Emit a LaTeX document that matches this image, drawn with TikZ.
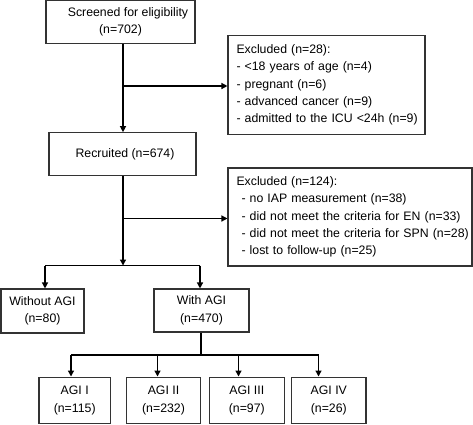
\documentclass[tikz,border=0pt]{standalone}
\usepackage{fontspec}
\setmainfont{Liberation Sans}
\usetikzlibrary{arrows.meta}
\begin{document}
\begin{tikzpicture}[x=1pt,y=-1pt,
  box/.style={draw=black!80, line width=1.1pt, inner sep=0pt, align=center,
    font=\fontsize{12.3}{17.6}\selectfont},
  exbox/.style={draw=black!80, line width=1.1pt, inner ysep=0pt, inner xsep=8.5pt, align=left,
    font=\fontsize{12.3}{17.2}\selectfont},
  conn/.style={line width=1.3pt, black},
  arr/.style={conn, -{Triangle[length=6pt,width=6pt]}}]
\useasboundingbox (0,0) rectangle (473,424);
% boxes
\node[box, minimum width=149pt, minimum height=42.5pt] (scr) at (120.5,21.8)
  {\hspace*{15pt}Screened for eligibility\\(n=702)};
\node[exbox, minimum width=197pt, minimum height=99pt, text width=180pt] (exc1) at (326.5,85)
  {\mbox{Excluded (n=28):}\\\mbox{- <18 years of age (n=4)}\\\mbox{- pregnant (n=6)}\\\mbox{- advanced cancer (n=9)}\\\mbox{- admitted to the ICU <24h (n=9)}};
\node[box, minimum width=147pt, minimum height=43pt] (rec) at (122.5,154.2)
  {\hspace*{5pt}Recruited (n=674)};
\node[exbox, minimum width=244pt, minimum height=98pt, text width=227pt] (exc2) at (350,217)
  {\mbox{Excluded (n=124):}\\\mbox{\hspace*{5pt}- no IAP measurement (n=38)}\\\mbox{\hspace*{5pt}- did not meet the criteria for EN (n=33)}\\\mbox{\hspace*{5pt}- did not meet the criteria for SPN (n=28)}\\\mbox{\hspace*{5pt}- lost to follow-up (n=25)}};
\node[box, minimum width=83pt, minimum height=44pt] (wo) at (42.5,311)
  {Without AGI\\(n=80)};
\node[box, minimum width=95pt, minimum height=43pt] (wi) at (201.5,310.5)
  {With AGI\\(n=470)};
\node[box, minimum width=71.5pt, minimum height=46.5pt] (a1) at (74.7,400.3)
  {AGI I\\(n=115)};
\node[box, minimum width=74pt, minimum height=46.5pt] (a2) at (163.5,400.3)
  {AGI II\\(n=232)};
\node[box, minimum width=75pt, minimum height=46.5pt] (a3) at (246.8,400.3)
  {AGI III\\(n=97)};
\node[box, minimum width=74.3pt, minimum height=46.5pt] (a4) at (328.8,400.3)
  {AGI IV\\(n=26)};
% junction coordinates
\coordinate (j1) at (123,86);
\coordinate (j2) at (123,218.5);
\coordinate (sp) at (123,265.5);
\coordinate (sl) at (45,265.5);
\coordinate (sr) at (200,265.5);
\coordinate (g) at (201,355);
\coordinate (g1) at (71,355);
\coordinate (g2) at (157.5,355);
\coordinate (g3) at (238.5,355);
\coordinate (g4) at (318.5,355);
% connectors
\draw[arr] (scr.south -| j1) -- (rec.north -| j1);
\draw[arr] (j1) -- (j1 -| exc1.west);
\draw[arr] (rec.south -| j2) -- (sp);
\draw[arr] (j2) -- (j2 -| exc2.west);
\draw[conn] (sl) -- (sr);
\draw[arr] (sl) -- (wo.north -| sl);
\draw[arr] (sr) -- (wi.north -| sr);
\draw[conn] (wi.south -| g) -- (g);
\draw[conn] (g1) -- (g4);
\draw[arr] (g1) -- (a1.north -| g1);
\draw[arr] (g2) -- (a2.north -| g2);
\draw[arr] (g3) -- (a3.north -| g3);
\draw[arr] (g4) -- (a4.north -| g4);
\end{tikzpicture}
\end{document}
